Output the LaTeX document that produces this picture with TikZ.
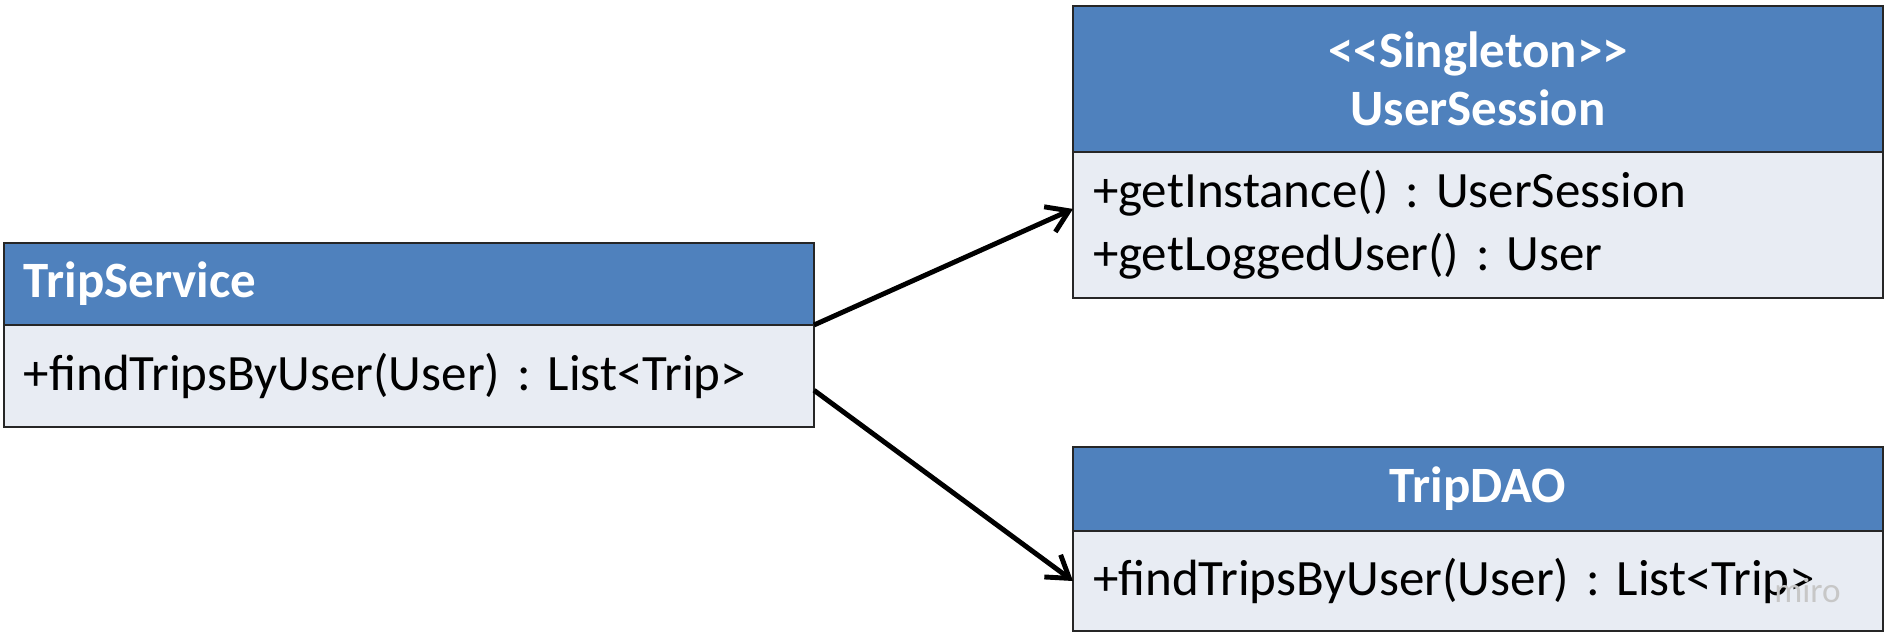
\documentclass[tikz,border=0pt]{standalone}
\usepackage{fontspec}
\setmainfont{Carlito}
\usetikzlibrary{calc,positioning,arrows.meta}
\tikzset{>={Straight Barb[length=0.42cm,width=0.55cm]}}
\definecolor{umlblue}{RGB}{79,129,189}
\definecolor{umlpale}{RGB}{232,236,243}
\tikzset{
  classhead/.style={draw=black!85, fill=umlblue, text=white,
    font=\fontsize{29}{33}\selectfont\bfseries, text width=15.4cm,
    inner xsep=0.4cm, inner ysep=0pt, outer sep=0pt, line width=1.2pt,
    anchor=north west},
  classbody/.style={draw=black!85, fill=umlpale, align=left,
    font=\fontsize{29}{36}\selectfont, text width=15.4cm,
    inner xsep=0.4cm, inner ysep=0pt, outer sep=0pt, line width=1.2pt},
}
\frenchspacing

\begin{document}
\begin{tikzpicture}
      \useasboundingbox (0,0) rectangle (37.72,-12.82);
      % TripService
      \node[classhead, minimum height=1.64cm] (ts-head) at (0.08,-4.86) {TripService};
      \node[classbody, minimum height=2.04cm, below=0pt of ts-head] (ts-body)
           {+findTripsByUser(User) : List<Trip>};
      % UserSession
      \node[classhead, minimum height=2.92cm, align=center] (us-head) at (21.46,-0.12)
           {<\kern0pt<Singleton>\kern0pt>\\UserSession};
      \node[classbody, minimum height=2.92cm, below=0pt of us-head] (us-body)
           {+getInstance() : UserSession\\+getLoggedUser() : User};
      % TripDAO
      \node[classhead, minimum height=1.68cm, align=center] (dao-head) at (21.46,-8.94) {TripDAO};
      \node[classbody, minimum height=2.0cm, below=0pt of dao-head] (dao-body)
           {+findTripsByUser(User) : List<Trip>};
      \node[text=black!22, font=\fontsize{20}{20}\selectfont] (wm) at (36.15,-11.82) {miro};
      % dependencies
      \draw[->, line width=2.8pt] (ts-body.north east)
           -- ($(us-body.north west)!0.39!(us-body.south west)$);
      \draw[->, line width=2.8pt] ($(ts-body.north east)!0.64!(ts-body.south east)$)
           -- (dao-body.west);
    \end{tikzpicture}
\end{document}
